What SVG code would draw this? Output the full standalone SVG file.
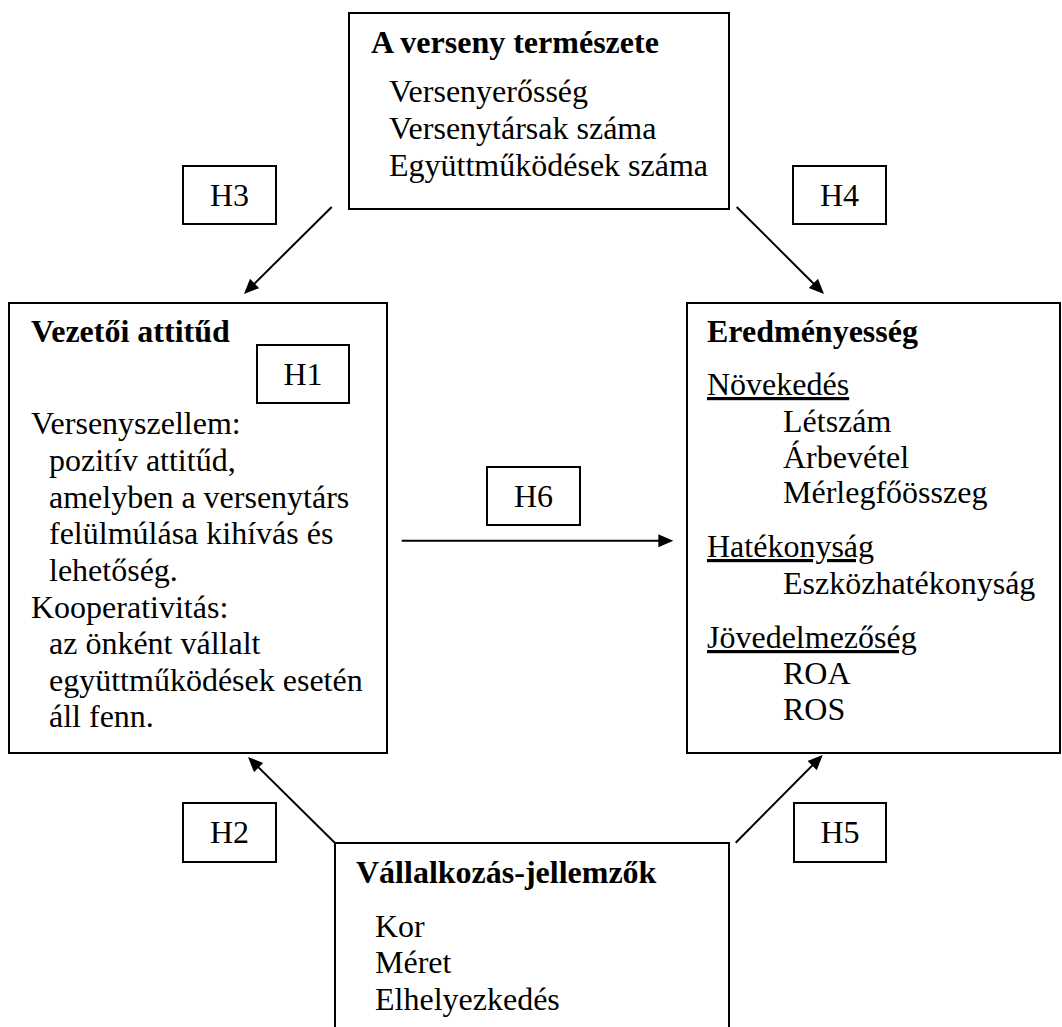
<svg xmlns="http://www.w3.org/2000/svg" width="1062" height="1027" viewBox="0 0 1062 1027">
<style>
.box{fill:none;stroke:#000;stroke-width:2}
.t{font-family:"Liberation Serif","Times New Roman",serif;font-size:32px;fill:#000}
.b{font-weight:bold}
.u{text-decoration:underline}
.h{text-anchor:middle}
.c{stroke:#000;stroke-width:2;fill:none}
</style>
<defs>
<marker id="ah" markerUnits="userSpaceOnUse" markerWidth="16" markerHeight="14" refX="11" refY="6.5" orient="auto">
<path d="M0,0 L15,6.5 L0,13 z" fill="#000"/>
</marker>
</defs>
<rect width="1062" height="1027" fill="#fff"/>
<g id="verseny">
<rect class="box" x="349" y="13" width="380" height="196"/>
<text class="t b" x="371" y="53">A verseny természete</text>
<text class="t" x="389" y="102">Versenyerősség</text>
<text class="t" x="389" y="139">Versenytársak száma</text>
<text class="t" x="389" y="176">Együttműködések száma</text>
</g>
<g id="vezetoi">
<rect class="box" x="9" y="303" width="378" height="450"/>
<text class="t b" x="31" y="342">Vezetői attitűd</text>
<text class="t" x="31" y="434">Versenyszellem:</text>
<text class="t" x="49" y="471">pozitív attitűd,</text>
<text class="t" x="49" y="508">amelyben a versenytárs</text>
<text class="t" x="49" y="544">felülmúlása kihívás és</text>
<text class="t" x="49" y="581">lehetőség.</text>
<text class="t" x="31" y="618">Kooperativitás:</text>
<text class="t" x="49" y="654">az önként vállalt</text>
<text class="t" x="49" y="691">együttműködések esetén</text>
<text class="t" x="49" y="727">áll fenn.</text>
</g>
<g id="eredmeny">
<rect class="box" x="687" y="303" width="373" height="450"/>
<text class="t b" x="707" y="342">Eredményesség</text>
<text class="t u" x="707" y="395">Növekedés</text>
<text class="t" x="783" y="432">Létszám</text>
<text class="t" x="783" y="468">Árbevétel</text>
<text class="t" x="783" y="503">Mérlegfőösszeg</text>
<text class="t u" x="707" y="557">Hatékonyság</text>
<text class="t" x="783" y="594">Eszközhatékonyság</text>
<text class="t u" x="707" y="648">Jövedelmezőség</text>
<text class="t" x="783" y="684">ROA</text>
<text class="t" x="783" y="720">ROS</text>
</g>
<g id="vallalkozas">
<path class="box" d="M335,1030 L335,843 L729,843 L729,1030"/>
<text class="t b" x="356" y="883">Vállalkozás-jellemzők</text>
<text class="t" x="375" y="937">Kor</text>
<text class="t" x="375" y="973">Méret</text>
<text class="t" x="375" y="1010">Elhelyezkedés</text>
</g>
<g id="h1"><rect class="box" x="257" y="345" width="92" height="58"/><text class="t h" x="303" y="385">H1</text></g>
<g id="h2"><rect class="box" x="183" y="803" width="93" height="59"/><text class="t h" x="229.5" y="843">H2</text></g>
<g id="h3"><rect class="box" x="183" y="166" width="93" height="58"/><text class="t h" x="229.5" y="206">H3</text></g>
<g id="h4"><rect class="box" x="793" y="166" width="93" height="58"/><text class="t h" x="839.5" y="206">H4</text></g>
<g id="h5"><rect class="box" x="794" y="803" width="92" height="59"/><text class="t h" x="840" y="843">H5</text></g>
<g id="h6"><rect class="box" x="487" y="467" width="93" height="58"/><text class="t h" x="533.5" y="507">H6</text></g>
<g id="connectors">
<line class="c" x1="331.7" y1="207" x2="246.8" y2="291.2" marker-end="url(#ah)"/>
<line class="c" x1="736.7" y1="207" x2="821.2" y2="291.2" marker-end="url(#ah)"/>
<line class="c" x1="335" y1="843" x2="250.8" y2="759.8" marker-end="url(#ah)"/>
<line class="c" x1="735.7" y1="842.7" x2="819.9" y2="757.8" marker-end="url(#ah)"/>
<line class="c" x1="401.7" y1="540.7" x2="669.3" y2="540.7" marker-end="url(#ah)"/>
</g>
</svg>
